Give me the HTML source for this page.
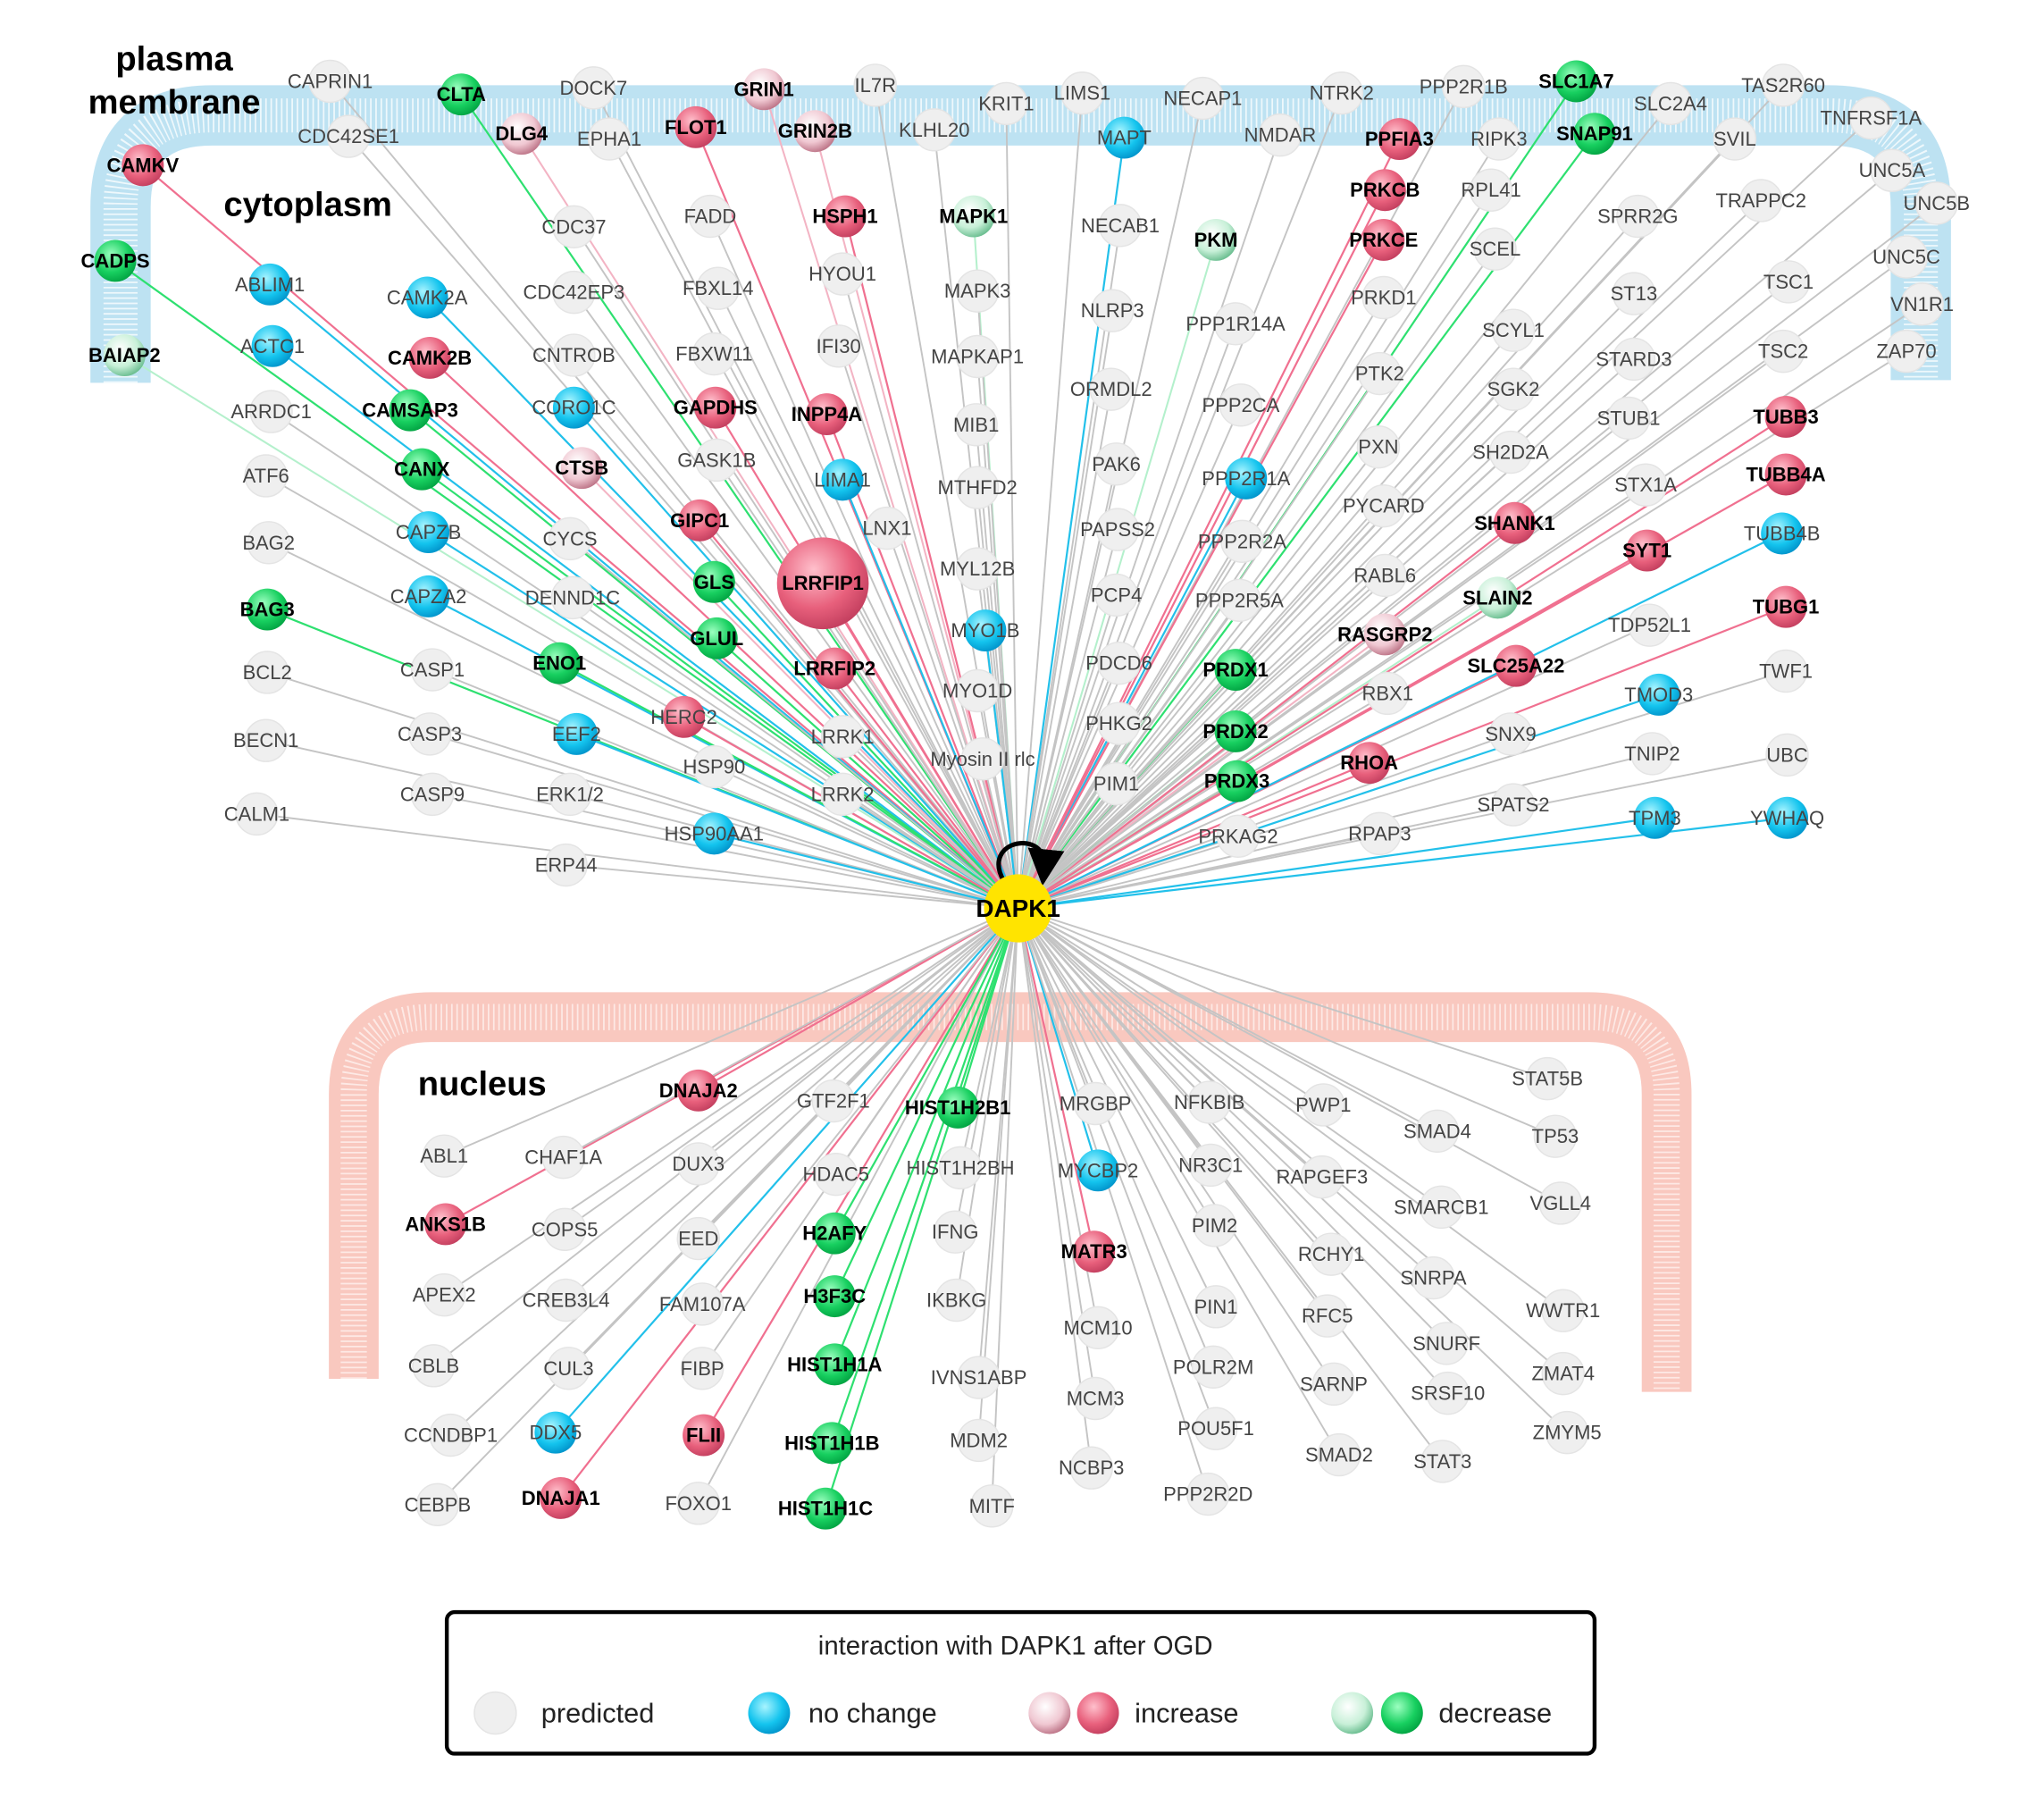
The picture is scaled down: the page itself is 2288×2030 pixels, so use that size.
<!DOCTYPE html>
<html><head><meta charset="utf-8"><style>
html,body{margin:0;padding:0;background:#fff}
svg{display:block}
text{font-family:"Liberation Sans",sans-serif;text-anchor:middle;dominant-baseline:central;font-size:15px;fill:#444}
text.b{font-weight:bold;fill:#000}
path.p{stroke:#c4c4c4;stroke-width:1.3;fill:none}
path.n{stroke:#22c0ea;stroke-width:1.5;fill:none}
path.i{stroke:#f07090;stroke-width:1.5;fill:none}
path.il{stroke:#f3b4c4;stroke-width:1.4;fill:none}
path.d{stroke:#2ee070;stroke-width:1.5;fill:none}
path.dl{stroke:#b4f0cc;stroke-width:1.4;fill:none}
circle.p{fill:#efefef;stroke:#e4e4e4}
circle.n{fill:url(#gn)}
circle.i{fill:url(#gi)}
circle.il{fill:url(#gil)}
circle.d{fill:url(#gd)}
circle.dl{fill:url(#gdl)}
</style></head><body>
<svg width="2288" height="2030" viewBox="0 0 1560 1384" xmlns="http://www.w3.org/2000/svg">
<defs>
<radialGradient id="gn" cx="0.4" cy="0.35" r="0.7"><stop offset="0" stop-color="#a8f4ff"/><stop offset="0.6" stop-color="#14c4ee"/><stop offset="1" stop-color="#0090c8"/></radialGradient>
<radialGradient id="gi" cx="0.4" cy="0.35" r="0.7"><stop offset="0" stop-color="#ffc0cc"/><stop offset="0.6" stop-color="#e8607c"/><stop offset="1" stop-color="#c03c5c"/></radialGradient>
<radialGradient id="gil" cx="0.4" cy="0.35" r="0.7"><stop offset="0" stop-color="#ffffff"/><stop offset="0.6" stop-color="#f0c8d2"/><stop offset="1" stop-color="#b86c80"/></radialGradient>
<radialGradient id="gd" cx="0.4" cy="0.35" r="0.7"><stop offset="0" stop-color="#9cffc0"/><stop offset="0.6" stop-color="#18d060"/><stop offset="1" stop-color="#00a040"/></radialGradient>
<radialGradient id="gdl" cx="0.4" cy="0.35" r="0.7"><stop offset="0" stop-color="#ffffff"/><stop offset="0.6" stop-color="#c8f0d8"/><stop offset="1" stop-color="#60b888"/></radialGradient>
<marker id="ah" markerWidth="8" markerHeight="8" refX="4" refY="4" orient="auto"><path d="M0,0 L8,4 L0,8 z" fill="#000"/></marker>
</defs>
<!-- membranes -->
<path d="M92 292 L92 158 Q92 88 162 88 L1396 88 Q1466 88 1466 158 L1466 290" fill="none" stroke="#bde2f2" stroke-width="46"/>
<path d="M92 292 L92 158 Q92 88 162 88 L1396 88 Q1466 88 1466 158 L1466 290" fill="none" stroke="#ffffff" stroke-opacity="0.75" stroke-width="26" stroke-dasharray="1.2 2.8"/>
<path d="M270 1052 L270 835 Q270 776 329 776 L1213 776 Q1272 776 1272 835 L1272 1062" fill="none" stroke="#f9c8bf" stroke-width="38"/>
<path d="M270 1052 L270 835 Q270 776 329 776 L1213 776 Q1272 776 1272 835 L1272 1062" fill="none" stroke="#ffffff" stroke-opacity="0.6" stroke-width="20" stroke-dasharray="1.2 2.8"/>
<text class="b" x="133" y="45" style="font-size:26px">plasma</text>
<text class="b" x="133" y="78" style="font-size:26px">membrane</text>
<text class="b" x="235" y="156" style="font-size:26px">cytoplasm</text>
<text class="b" x="368" y="827" style="font-size:26px">nucleus</text>
<g>
<path class="p" d="M777 693L252 62"/><path class="d" d="M777 693L352 72"/><path class="p" d="M777 693L453 67"/><path class="il" d="M777 693L583 68"/><path class="p" d="M777 693L668 65"/><path class="p" d="M777 693L768 79"/><path class="p" d="M777 693L826 71"/><path class="p" d="M777 693L918 75"/><path class="p" d="M777 693L1024 71"/><path class="p" d="M777 693L1117 66"/><path class="d" d="M777 693L1203 62"/><path class="p" d="M777 693L1361 65"/><path class="p" d="M777 693L1428 90"/><path class="p" d="M777 693L266 104"/><path class="il" d="M777 693L398 102"/><path class="p" d="M777 693L465 106"/><path class="i" d="M777 693L531 97"/><path class="il" d="M777 693L622 100"/><path class="p" d="M777 693L713 99"/><path class="n" d="M777 693L858 105"/><path class="p" d="M777 693L977 103"/><path class="i" d="M777 693L1068 106"/><path class="p" d="M777 693L1144 106"/><path class="d" d="M777 693L1217 102"/><path class="p" d="M777 693L1275 79"/><path class="p" d="M777 693L1324 106"/><path class="p" d="M777 693L1444 130"/><path class="p" d="M777 693L1478 155"/><path class="p" d="M777 693L1455 196"/><path class="p" d="M777 693L1467 232"/><path class="p" d="M777 693L1455 268"/><path class="i" d="M777 693L109 126"/><path class="d" d="M777 693L88 199"/><path class="dl" d="M777 693L95 271"/>
<path class="n" d="M777 693L206 217"/><path class="n" d="M777 693L208 264"/><path class="p" d="M777 693L207 314"/><path class="p" d="M777 693L203 363"/><path class="p" d="M777 693L205 414"/><path class="d" d="M777 693L204 465"/><path class="p" d="M777 693L204 513"/><path class="p" d="M777 693L203 565"/><path class="p" d="M777 693L196 621"/><path class="n" d="M777 693L326 227"/><path class="i" d="M777 693L328 273"/><path class="d" d="M777 693L313 313"/><path class="d" d="M777 693L322 358"/><path class="n" d="M777 693L327 406"/><path class="n" d="M777 693L327 455"/><path class="p" d="M777 693L330 511"/><path class="p" d="M777 693L328 560"/><path class="p" d="M777 693L330 606"/><path class="p" d="M777 693L438 173"/><path class="p" d="M777 693L438 223"/><path class="p" d="M777 693L438 271"/><path class="n" d="M777 693L438 311"/><path class="il" d="M777 693L444 357"/><path class="p" d="M777 693L435 411"/><path class="p" d="M777 693L437 456"/><path class="d" d="M777 693L427 506"/><path class="n" d="M777 693L440 560"/><path class="p" d="M777 693L435 606"/><path class="p" d="M777 693L432 660"/><path class="p" d="M777 693L542 165"/><path class="p" d="M777 693L548 220"/><path class="p" d="M777 693L545 270"/><path class="i" d="M777 693L546 311"/><path class="p" d="M777 693L547 351"/><path class="i" d="M777 693L534 397"/><path class="d" d="M777 693L545 444"/><path class="d" d="M777 693L547 487"/><path class="i" d="M777 693L522 547"/><path class="p" d="M777 693L545 585"/><path class="n" d="M777 693L545 636"/><path class="i" d="M777 693L645 165"/><path class="p" d="M777 693L643 209"/><path class="p" d="M777 693L640 264"/><path class="i" d="M777 693L631 316"/><path class="n" d="M777 693L643 366"/><path class="p" d="M777 693L677 403"/><path class="i" d="M777 693L628 445"/><path class="i" d="M777 693L637 510"/><path class="p" d="M777 693L643 562"/><path class="p" d="M777 693L643 606"/><path class="dl" d="M777 693L743 165"/><path class="p" d="M777 693L746 222"/><path class="p" d="M777 693L746 272"/><path class="p" d="M777 693L745 324"/><path class="p" d="M777 693L746 372"/><path class="p" d="M777 693L746 434"/><path class="n" d="M777 693L752 481"/><path class="p" d="M777 693L746 527"/><path class="p" d="M777 693L750 579"/><path class="p" d="M777 693L855 172"/><path class="p" d="M777 693L849 237"/><path class="p" d="M777 693L848 297"/><path class="p" d="M777 693L852 354"/><path class="p" d="M777 693L853 404"/><path class="p" d="M777 693L852 454"/><path class="p" d="M777 693L854 506"/><path class="p" d="M777 693L854 552"/><path class="p" d="M777 693L852 598"/><path class="dl" d="M777 693L928 183"/><path class="p" d="M777 693L943 247"/><path class="p" d="M777 693L947 309"/><path class="n" d="M777 693L951 365"/><path class="p" d="M777 693L948 413"/><path class="p" d="M777 693L946 458"/><path class="d" d="M777 693L943 511"/><path class="d" d="M777 693L943 558"/><path class="d" d="M777 693L944 596"/><path class="p" d="M777 693L945 638"/><path class="i" d="M777 693L1057 145"/><path class="i" d="M777 693L1056 183"/><path class="p" d="M777 693L1056 227"/><path class="p" d="M777 693L1053 285"/><path class="p" d="M777 693L1052 341"/><path class="p" d="M777 693L1056 386"/><path class="p" d="M777 693L1057 439"/><path class="il" d="M777 693L1057 484"/><path class="p" d="M777 693L1059 529"/><path class="i" d="M777 693L1045 582"/><path class="p" d="M777 693L1053 636"/><path class="p" d="M777 693L1138 145"/><path class="p" d="M777 693L1141 190"/><path class="p" d="M777 693L1155 252"/><path class="p" d="M777 693L1155 297"/><path class="p" d="M777 693L1153 345"/><path class="i" d="M777 693L1156 399"/><path class="dl" d="M777 693L1143 456"/><path class="i" d="M777 693L1157 508"/><path class="p" d="M777 693L1153 560"/><path class="p" d="M777 693L1155 614"/><path class="p" d="M777 693L1250 165"/><path class="p" d="M777 693L1247 224"/><path class="p" d="M777 693L1247 274"/><path class="p" d="M777 693L1243 319"/><path class="p" d="M777 693L1256 370"/><path class="i" d="M777 693L1257 420"/><path class="p" d="M777 693L1259 477"/><path class="n" d="M777 693L1266 530"/><path class="p" d="M777 693L1261 575"/><path class="n" d="M777 693L1263 624"/><path class="p" d="M777 693L1344 153"/><path class="p" d="M777 693L1365 215"/><path class="p" d="M777 693L1361 268"/><path class="i" d="M777 693L1363 318"/><path class="i" d="M777 693L1363 362"/><path class="n" d="M777 693L1360 407"/><path class="i" d="M777 693L1363 463"/><path class="p" d="M777 693L1363 512"/><path class="p" d="M777 693L1364 576"/><path class="n" d="M777 693L1364 624"/>
<path class="i" d="M777 693L533 832"/><path class="p" d="M777 693L339 882"/><path class="i" d="M777 693L340 934"/><path class="p" d="M777 693L339 988"/><path class="p" d="M777 693L331 1042"/><path class="p" d="M777 693L344 1095"/><path class="p" d="M777 693L334 1148"/><path class="p" d="M777 693L430 883"/><path class="p" d="M777 693L431 938"/><path class="p" d="M777 693L432 992"/><path class="p" d="M777 693L434 1044"/><path class="n" d="M777 693L424 1093"/><path class="i" d="M777 693L428 1143"/><path class="p" d="M777 693L636 840"/><path class="p" d="M777 693L533 888"/><path class="p" d="M777 693L533 945"/><path class="p" d="M777 693L536 995"/><path class="p" d="M777 693L536 1044"/><path class="i" d="M777 693L537 1095"/><path class="p" d="M777 693L533 1147"/><path class="d" d="M777 693L731 845"/><path class="p" d="M777 693L638 896"/><path class="d" d="M777 693L637 941"/><path class="d" d="M777 693L637 989"/><path class="d" d="M777 693L637 1041"/><path class="d" d="M777 693L635 1101"/><path class="d" d="M777 693L630 1151"/><path class="p" d="M777 693L733 891"/><path class="p" d="M777 693L729 940"/><path class="p" d="M777 693L730 992"/><path class="p" d="M777 693L747 1051"/><path class="p" d="M777 693L747 1099"/><path class="p" d="M777 693L757 1149"/><path class="p" d="M777 693L836 842"/><path class="n" d="M777 693L838 893"/><path class="i" d="M777 693L835 955"/><path class="p" d="M777 693L838 1013"/><path class="p" d="M777 693L836 1067"/><path class="p" d="M777 693L833 1120"/><path class="p" d="M777 693L923 841"/><path class="p" d="M777 693L924 889"/><path class="p" d="M777 693L927 935"/><path class="p" d="M777 693L928 997"/><path class="p" d="M777 693L926 1043"/><path class="p" d="M777 693L928 1090"/><path class="p" d="M777 693L922 1140"/><path class="p" d="M777 693L1010 843"/><path class="p" d="M777 693L1009 898"/><path class="p" d="M777 693L1016 957"/><path class="p" d="M777 693L1013 1004"/><path class="p" d="M777 693L1018 1056"/><path class="p" d="M777 693L1022 1110"/><path class="p" d="M777 693L1097 863"/><path class="p" d="M777 693L1100 921"/><path class="p" d="M777 693L1094 975"/><path class="p" d="M777 693L1104 1025"/><path class="p" d="M777 693L1105 1063"/><path class="p" d="M777 693L1101 1115"/><path class="p" d="M777 693L1181 823"/><path class="p" d="M777 693L1187 867"/><path class="p" d="M777 693L1191 918"/><path class="p" d="M777 693L1193 1000"/><path class="p" d="M777 693L1193 1048"/><path class="p" d="M777 693L1196 1093"/>
</g>
<g>
<circle class="p" cx="252" cy="62" r="16"/><circle class="d" cx="352" cy="72" r="16"/><circle class="p" cx="453" cy="67" r="16"/><circle class="il" cx="583" cy="68" r="16"/><circle class="p" cx="668" cy="65" r="16"/><circle class="p" cx="768" cy="79" r="16"/><circle class="p" cx="826" cy="71" r="16"/><circle class="p" cx="918" cy="75" r="16"/><circle class="p" cx="1024" cy="71" r="16"/><circle class="p" cx="1117" cy="66" r="16"/><circle class="d" cx="1203" cy="62" r="16"/><circle class="p" cx="1361" cy="65" r="16"/><circle class="p" cx="1428" cy="90" r="16"/><circle class="p" cx="266" cy="104" r="16"/><circle class="il" cx="398" cy="102" r="16"/><circle class="p" cx="465" cy="106" r="16"/><circle class="i" cx="531" cy="97" r="16"/><circle class="il" cx="622" cy="100" r="16"/><circle class="p" cx="713" cy="99" r="16"/><circle class="n" cx="858" cy="105" r="16"/><circle class="p" cx="977" cy="103" r="16"/><circle class="i" cx="1068" cy="106" r="16"/><circle class="p" cx="1144" cy="106" r="16"/><circle class="d" cx="1217" cy="102" r="16"/><circle class="p" cx="1275" cy="79" r="16"/><circle class="p" cx="1324" cy="106" r="16"/><circle class="p" cx="1444" cy="130" r="16"/><circle class="p" cx="1478" cy="155" r="16"/><circle class="p" cx="1455" cy="196" r="16"/><circle class="p" cx="1467" cy="232" r="16"/><circle class="p" cx="1455" cy="268" r="16"/><circle class="i" cx="109" cy="126" r="16"/><circle class="d" cx="88" cy="199" r="16"/><circle class="dl" cx="95" cy="271" r="16"/>
<circle class="n" cx="206" cy="217" r="16"/><circle class="n" cx="208" cy="264" r="16"/><circle class="p" cx="207" cy="314" r="16"/><circle class="p" cx="203" cy="363" r="16"/><circle class="p" cx="205" cy="414" r="16"/><circle class="d" cx="204" cy="465" r="16"/><circle class="p" cx="204" cy="513" r="16"/><circle class="p" cx="203" cy="565" r="16"/><circle class="p" cx="196" cy="621" r="16"/><circle class="n" cx="326" cy="227" r="16"/><circle class="i" cx="328" cy="273" r="16"/><circle class="d" cx="313" cy="313" r="16"/><circle class="d" cx="322" cy="358" r="16"/><circle class="n" cx="327" cy="406" r="16"/><circle class="n" cx="327" cy="455" r="16"/><circle class="p" cx="330" cy="511" r="16"/><circle class="p" cx="328" cy="560" r="16"/><circle class="p" cx="330" cy="606" r="16"/><circle class="p" cx="438" cy="173" r="16"/><circle class="p" cx="438" cy="223" r="16"/><circle class="p" cx="438" cy="271" r="16"/><circle class="n" cx="438" cy="311" r="16"/><circle class="il" cx="444" cy="357" r="16"/><circle class="p" cx="435" cy="411" r="16"/><circle class="p" cx="437" cy="456" r="16"/><circle class="d" cx="427" cy="506" r="16"/><circle class="n" cx="440" cy="560" r="16"/><circle class="p" cx="435" cy="606" r="16"/><circle class="p" cx="432" cy="660" r="16"/><circle class="p" cx="542" cy="165" r="16"/><circle class="p" cx="548" cy="220" r="16"/><circle class="p" cx="545" cy="270" r="16"/><circle class="i" cx="546" cy="311" r="16"/><circle class="p" cx="547" cy="351" r="16"/><circle class="i" cx="534" cy="397" r="16"/><circle class="d" cx="545" cy="444" r="16"/><circle class="d" cx="547" cy="487" r="16"/><circle class="i" cx="522" cy="547" r="16"/><circle class="p" cx="545" cy="585" r="16"/><circle class="n" cx="545" cy="636" r="16"/><circle class="i" cx="645" cy="165" r="16"/><circle class="p" cx="643" cy="209" r="16"/><circle class="p" cx="640" cy="264" r="16"/><circle class="i" cx="631" cy="316" r="16"/><circle class="n" cx="643" cy="366" r="16"/><circle class="p" cx="677" cy="403" r="16"/><circle class="i" cx="628" cy="445" r="35"/><circle class="i" cx="637" cy="510" r="16"/><circle class="p" cx="643" cy="562" r="16"/><circle class="p" cx="643" cy="606" r="16"/><circle class="dl" cx="743" cy="165" r="16"/><circle class="p" cx="746" cy="222" r="16"/><circle class="p" cx="746" cy="272" r="16"/><circle class="p" cx="745" cy="324" r="16"/><circle class="p" cx="746" cy="372" r="16"/><circle class="p" cx="746" cy="434" r="16"/><circle class="n" cx="752" cy="481" r="16"/><circle class="p" cx="746" cy="527" r="16"/><circle class="p" cx="750" cy="579" r="16"/><circle class="p" cx="855" cy="172" r="16"/><circle class="p" cx="849" cy="237" r="16"/><circle class="p" cx="848" cy="297" r="16"/><circle class="p" cx="852" cy="354" r="16"/><circle class="p" cx="853" cy="404" r="16"/><circle class="p" cx="852" cy="454" r="16"/><circle class="p" cx="854" cy="506" r="16"/><circle class="p" cx="854" cy="552" r="16"/><circle class="p" cx="852" cy="598" r="16"/><circle class="dl" cx="928" cy="183" r="16"/><circle class="p" cx="943" cy="247" r="16"/><circle class="p" cx="947" cy="309" r="16"/><circle class="n" cx="951" cy="365" r="16"/><circle class="p" cx="948" cy="413" r="16"/><circle class="p" cx="946" cy="458" r="16"/><circle class="d" cx="943" cy="511" r="16"/><circle class="d" cx="943" cy="558" r="16"/><circle class="d" cx="944" cy="596" r="16"/><circle class="p" cx="945" cy="638" r="16"/><circle class="i" cx="1057" cy="145" r="16"/><circle class="i" cx="1056" cy="183" r="16"/><circle class="p" cx="1056" cy="227" r="16"/><circle class="p" cx="1053" cy="285" r="16"/><circle class="p" cx="1052" cy="341" r="16"/><circle class="p" cx="1056" cy="386" r="16"/><circle class="p" cx="1057" cy="439" r="16"/><circle class="il" cx="1057" cy="484" r="16"/><circle class="p" cx="1059" cy="529" r="16"/><circle class="i" cx="1045" cy="582" r="16"/><circle class="p" cx="1053" cy="636" r="16"/><circle class="p" cx="1138" cy="145" r="16"/><circle class="p" cx="1141" cy="190" r="16"/><circle class="p" cx="1155" cy="252" r="16"/><circle class="p" cx="1155" cy="297" r="16"/><circle class="p" cx="1153" cy="345" r="16"/><circle class="i" cx="1156" cy="399" r="16"/><circle class="dl" cx="1143" cy="456" r="16"/><circle class="i" cx="1157" cy="508" r="16"/><circle class="p" cx="1153" cy="560" r="16"/><circle class="p" cx="1155" cy="614" r="16"/><circle class="p" cx="1250" cy="165" r="16"/><circle class="p" cx="1247" cy="224" r="16"/><circle class="p" cx="1247" cy="274" r="16"/><circle class="p" cx="1243" cy="319" r="16"/><circle class="p" cx="1256" cy="370" r="16"/><circle class="i" cx="1257" cy="420" r="16"/><circle class="p" cx="1259" cy="477" r="16"/><circle class="n" cx="1266" cy="530" r="16"/><circle class="p" cx="1261" cy="575" r="16"/><circle class="n" cx="1263" cy="624" r="16"/><circle class="p" cx="1344" cy="153" r="16"/><circle class="p" cx="1365" cy="215" r="16"/><circle class="p" cx="1361" cy="268" r="16"/><circle class="i" cx="1363" cy="318" r="16"/><circle class="i" cx="1363" cy="362" r="16"/><circle class="n" cx="1360" cy="407" r="16"/><circle class="i" cx="1363" cy="463" r="16"/><circle class="p" cx="1363" cy="512" r="16"/><circle class="p" cx="1364" cy="576" r="16"/><circle class="n" cx="1364" cy="624" r="16"/>
<circle class="i" cx="533" cy="832" r="16"/><circle class="p" cx="339" cy="882" r="16"/><circle class="i" cx="340" cy="934" r="16"/><circle class="p" cx="339" cy="988" r="16"/><circle class="p" cx="331" cy="1042" r="16"/><circle class="p" cx="344" cy="1095" r="16"/><circle class="p" cx="334" cy="1148" r="16"/><circle class="p" cx="430" cy="883" r="16"/><circle class="p" cx="431" cy="938" r="16"/><circle class="p" cx="432" cy="992" r="16"/><circle class="p" cx="434" cy="1044" r="16"/><circle class="n" cx="424" cy="1093" r="16"/><circle class="i" cx="428" cy="1143" r="16"/><circle class="p" cx="636" cy="840" r="16"/><circle class="p" cx="533" cy="888" r="16"/><circle class="p" cx="533" cy="945" r="16"/><circle class="p" cx="536" cy="995" r="16"/><circle class="p" cx="536" cy="1044" r="16"/><circle class="i" cx="537" cy="1095" r="16"/><circle class="p" cx="533" cy="1147" r="16"/><circle class="d" cx="731" cy="845" r="16"/><circle class="p" cx="638" cy="896" r="16"/><circle class="d" cx="637" cy="941" r="16"/><circle class="d" cx="637" cy="989" r="16"/><circle class="d" cx="637" cy="1041" r="16"/><circle class="d" cx="635" cy="1101" r="16"/><circle class="d" cx="630" cy="1151" r="16"/><circle class="p" cx="733" cy="891" r="16"/><circle class="p" cx="729" cy="940" r="16"/><circle class="p" cx="730" cy="992" r="16"/><circle class="p" cx="747" cy="1051" r="16"/><circle class="p" cx="747" cy="1099" r="16"/><circle class="p" cx="757" cy="1149" r="16"/><circle class="p" cx="836" cy="842" r="16"/><circle class="n" cx="838" cy="893" r="16"/><circle class="i" cx="835" cy="955" r="16"/><circle class="p" cx="838" cy="1013" r="16"/><circle class="p" cx="836" cy="1067" r="16"/><circle class="p" cx="833" cy="1120" r="16"/><circle class="p" cx="923" cy="841" r="16"/><circle class="p" cx="924" cy="889" r="16"/><circle class="p" cx="927" cy="935" r="16"/><circle class="p" cx="928" cy="997" r="16"/><circle class="p" cx="926" cy="1043" r="16"/><circle class="p" cx="928" cy="1090" r="16"/><circle class="p" cx="922" cy="1140" r="16"/><circle class="p" cx="1010" cy="843" r="16"/><circle class="p" cx="1009" cy="898" r="16"/><circle class="p" cx="1016" cy="957" r="16"/><circle class="p" cx="1013" cy="1004" r="16"/><circle class="p" cx="1018" cy="1056" r="16"/><circle class="p" cx="1022" cy="1110" r="16"/><circle class="p" cx="1097" cy="863" r="16"/><circle class="p" cx="1100" cy="921" r="16"/><circle class="p" cx="1094" cy="975" r="16"/><circle class="p" cx="1104" cy="1025" r="16"/><circle class="p" cx="1105" cy="1063" r="16"/><circle class="p" cx="1101" cy="1115" r="16"/><circle class="p" cx="1181" cy="823" r="16"/><circle class="p" cx="1187" cy="867" r="16"/><circle class="p" cx="1191" cy="918" r="16"/><circle class="p" cx="1193" cy="1000" r="16"/><circle class="p" cx="1193" cy="1048" r="16"/><circle class="p" cx="1196" cy="1093" r="16"/>
</g>
<g>
<text x="252" y="62">CAPRIN1</text><text class="b" x="352" y="72">CLTA</text><text x="453" y="67">DOCK7</text><text class="b" x="583" y="68">GRIN1</text><text x="668" y="65">IL7R</text><text x="768" y="79">KRIT1</text><text x="826" y="71">LIMS1</text><text x="918" y="75">NECAP1</text><text x="1024" y="71">NTRK2</text><text x="1117" y="66">PPP2R1B</text><text class="b" x="1203" y="62">SLC1A7</text><text x="1361" y="65">TAS2R60</text><text x="1428" y="90">TNFRSF1A</text><text x="266" y="104">CDC42SE1</text><text class="b" x="398" y="102">DLG4</text><text x="465" y="106">EPHA1</text><text class="b" x="531" y="97">FLOT1</text><text class="b" x="622" y="100">GRIN2B</text><text x="713" y="99">KLHL20</text><text x="858" y="105">MAPT</text><text x="977" y="103">NMDAR</text><text class="b" x="1068" y="106">PPFIA3</text><text x="1144" y="106">RIPK3</text><text class="b" x="1217" y="102">SNAP91</text><text x="1275" y="79">SLC2A4</text><text x="1324" y="106">SVIL</text><text x="1444" y="130">UNC5A</text><text x="1478" y="155">UNC5B</text><text x="1455" y="196">UNC5C</text><text x="1467" y="232">VN1R1</text><text x="1455" y="268">ZAP70</text><text class="b" x="109" y="126">CAMKV</text><text class="b" x="88" y="199">CADPS</text><text class="b" x="95" y="271">BAIAP2</text>
<text x="206" y="217">ABLIM1</text><text x="208" y="264">ACTC1</text><text x="207" y="314">ARRDC1</text><text x="203" y="363">ATF6</text><text x="205" y="414">BAG2</text><text class="b" x="204" y="465">BAG3</text><text x="204" y="513">BCL2</text><text x="203" y="565">BECN1</text><text x="196" y="621">CALM1</text><text x="326" y="227">CAMK2A</text><text class="b" x="328" y="273">CAMK2B</text><text class="b" x="313" y="313">CAMSAP3</text><text class="b" x="322" y="358">CANX</text><text x="327" y="406">CAPZB</text><text x="327" y="455">CAPZA2</text><text x="330" y="511">CASP1</text><text x="328" y="560">CASP3</text><text x="330" y="606">CASP9</text><text x="438" y="173">CDC37</text><text x="438" y="223">CDC42EP3</text><text x="438" y="271">CNTROB</text><text x="438" y="311">CORO1C</text><text class="b" x="444" y="357">CTSB</text><text x="435" y="411">CYCS</text><text x="437" y="456">DENND1C</text><text class="b" x="427" y="506">ENO1</text><text x="440" y="560">EEF2</text><text x="435" y="606">ERK1/2</text><text x="432" y="660">ERP44</text><text x="542" y="165">FADD</text><text x="548" y="220">FBXL14</text><text x="545" y="270">FBXW11</text><text class="b" x="546" y="311">GAPDHS</text><text x="547" y="351">GASK1B</text><text class="b" x="534" y="397">GIPC1</text><text class="b" x="545" y="444">GLS</text><text class="b" x="547" y="487">GLUL</text><text x="522" y="547">HERC2</text><text x="545" y="585">HSP90</text><text x="545" y="636">HSP90AA1</text><text class="b" x="645" y="165">HSPH1</text><text x="643" y="209">HYOU1</text><text x="640" y="264">IFI30</text><text class="b" x="631" y="316">INPP4A</text><text x="643" y="366">LIMA1</text><text x="677" y="403">LNX1</text><text class="b" x="628" y="445">LRRFIP1</text><text class="b" x="637" y="510">LRRFIP2</text><text x="643" y="562">LRRK1</text><text x="643" y="606">LRRK2</text><text class="b" x="743" y="165">MAPK1</text><text x="746" y="222">MAPK3</text><text x="746" y="272">MAPKAP1</text><text x="745" y="324">MIB1</text><text x="746" y="372">MTHFD2</text><text x="746" y="434">MYL12B</text><text x="752" y="481">MYO1B</text><text x="746" y="527">MYO1D</text><text x="750" y="579">Myosin II rlc</text><text x="855" y="172">NECAB1</text><text x="849" y="237">NLRP3</text><text x="848" y="297">ORMDL2</text><text x="852" y="354">PAK6</text><text x="853" y="404">PAPSS2</text><text x="852" y="454">PCP4</text><text x="854" y="506">PDCD6</text><text x="854" y="552">PHKG2</text><text x="852" y="598">PIM1</text><text class="b" x="928" y="183">PKM</text><text x="943" y="247">PPP1R14A</text><text x="947" y="309">PPP2CA</text><text x="951" y="365">PPP2R1A</text><text x="948" y="413">PPP2R2A</text><text x="946" y="458">PPP2R5A</text><text class="b" x="943" y="511">PRDX1</text><text class="b" x="943" y="558">PRDX2</text><text class="b" x="944" y="596">PRDX3</text><text x="945" y="638">PRKAG2</text><text class="b" x="1057" y="145">PRKCB</text><text class="b" x="1056" y="183">PRKCE</text><text x="1056" y="227">PRKD1</text><text x="1053" y="285">PTK2</text><text x="1052" y="341">PXN</text><text x="1056" y="386">PYCARD</text><text x="1057" y="439">RABL6</text><text class="b" x="1057" y="484">RASGRP2</text><text x="1059" y="529">RBX1</text><text class="b" x="1045" y="582">RHOA</text><text x="1053" y="636">RPAP3</text><text x="1138" y="145">RPL41</text><text x="1141" y="190">SCEL</text><text x="1155" y="252">SCYL1</text><text x="1155" y="297">SGK2</text><text x="1153" y="345">SH2D2A</text><text class="b" x="1156" y="399">SHANK1</text><text class="b" x="1143" y="456">SLAIN2</text><text class="b" x="1157" y="508">SLC25A22</text><text x="1153" y="560">SNX9</text><text x="1155" y="614">SPATS2</text><text x="1250" y="165">SPRR2G</text><text x="1247" y="224">ST13</text><text x="1247" y="274">STARD3</text><text x="1243" y="319">STUB1</text><text x="1256" y="370">STX1A</text><text class="b" x="1257" y="420">SYT1</text><text x="1259" y="477">TDP52L1</text><text x="1266" y="530">TMOD3</text><text x="1261" y="575">TNIP2</text><text x="1263" y="624">TPM3</text><text x="1344" y="153">TRAPPC2</text><text x="1365" y="215">TSC1</text><text x="1361" y="268">TSC2</text><text class="b" x="1363" y="318">TUBB3</text><text class="b" x="1363" y="362">TUBB4A</text><text x="1360" y="407">TUBB4B</text><text class="b" x="1363" y="463">TUBG1</text><text x="1363" y="512">TWF1</text><text x="1364" y="576">UBC</text><text x="1364" y="624">YWHAQ</text>
<text class="b" x="533" y="832">DNAJA2</text><text x="339" y="882">ABL1</text><text class="b" x="340" y="934">ANKS1B</text><text x="339" y="988">APEX2</text><text x="331" y="1042">CBLB</text><text x="344" y="1095">CCNDBP1</text><text x="334" y="1148">CEBPB</text><text x="430" y="883">CHAF1A</text><text x="431" y="938">COPS5</text><text x="432" y="992">CREB3L4</text><text x="434" y="1044">CUL3</text><text x="424" y="1093">DDX5</text><text class="b" x="428" y="1143">DNAJA1</text><text x="636" y="840">GTF2F1</text><text x="533" y="888">DUX3</text><text x="533" y="945">EED</text><text x="536" y="995">FAM107A</text><text x="536" y="1044">FIBP</text><text class="b" x="537" y="1095">FLII</text><text x="533" y="1147">FOXO1</text><text class="b" x="731" y="845">HIST1H2B1</text><text x="638" y="896">HDAC5</text><text class="b" x="637" y="941">H2AFY</text><text class="b" x="637" y="989">H3F3C</text><text class="b" x="637" y="1041">HIST1H1A</text><text class="b" x="635" y="1101">HIST1H1B</text><text class="b" x="630" y="1151">HIST1H1C</text><text x="733" y="891">HIST1H2BH</text><text x="729" y="940">IFNG</text><text x="730" y="992">IKBKG</text><text x="747" y="1051">IVNS1ABP</text><text x="747" y="1099">MDM2</text><text x="757" y="1149">MITF</text><text x="836" y="842">MRGBP</text><text x="838" y="893">MYCBP2</text><text class="b" x="835" y="955">MATR3</text><text x="838" y="1013">MCM10</text><text x="836" y="1067">MCM3</text><text x="833" y="1120">NCBP3</text><text x="923" y="841">NFKBIB</text><text x="924" y="889">NR3C1</text><text x="927" y="935">PIM2</text><text x="928" y="997">PIN1</text><text x="926" y="1043">POLR2M</text><text x="928" y="1090">POU5F1</text><text x="922" y="1140">PPP2R2D</text><text x="1010" y="843">PWP1</text><text x="1009" y="898">RAPGEF3</text><text x="1016" y="957">RCHY1</text><text x="1013" y="1004">RFC5</text><text x="1018" y="1056">SARNP</text><text x="1022" y="1110">SMAD2</text><text x="1097" y="863">SMAD4</text><text x="1100" y="921">SMARCB1</text><text x="1094" y="975">SNRPA</text><text x="1104" y="1025">SNURF</text><text x="1105" y="1063">SRSF10</text><text x="1101" y="1115">STAT3</text><text x="1181" y="823">STAT5B</text><text x="1187" y="867">TP53</text><text x="1191" y="918">VGLL4</text><text x="1193" y="1000">WWTR1</text><text x="1193" y="1048">ZMAT4</text><text x="1196" y="1093">ZMYM5</text>
</g>
<!-- center -->
<path d="M766 672 C748 640, 800 632, 797 662" fill="none" stroke="#000" stroke-width="3.5" marker-end="url(#ah)"/>
<circle cx="777" cy="693" r="26" fill="#ffe400"/>
<text class="b" x="777" y="693" style="font-size:19px">DAPK1</text>
<!-- legend -->
<rect x="341" y="1230" width="876" height="108" rx="6" fill="#fff" stroke="#000" stroke-width="3"/>
<text x="775" y="1256" style="font-size:20px;fill:#222">interaction with DAPK1 after OGD</text>
<circle class="p" cx="378" cy="1307" r="16"/>
<text x="413" y="1307" style="font-size:21px;fill:#222;text-anchor:start">predicted</text>
<circle class="n" cx="587" cy="1307" r="16"/>
<text x="617" y="1307" style="font-size:21px;fill:#222;text-anchor:start">no change</text>
<circle class="il" cx="801" cy="1307" r="16"/><circle class="i" cx="838" cy="1307" r="16"/>
<text x="866" y="1307" style="font-size:21px;fill:#222;text-anchor:start">increase</text>
<circle class="dl" cx="1032" cy="1307" r="16"/><circle class="d" cx="1070" cy="1307" r="16"/>
<text x="1098" y="1307" style="font-size:21px;fill:#222;text-anchor:start">decrease</text>
</svg>
</body></html>
